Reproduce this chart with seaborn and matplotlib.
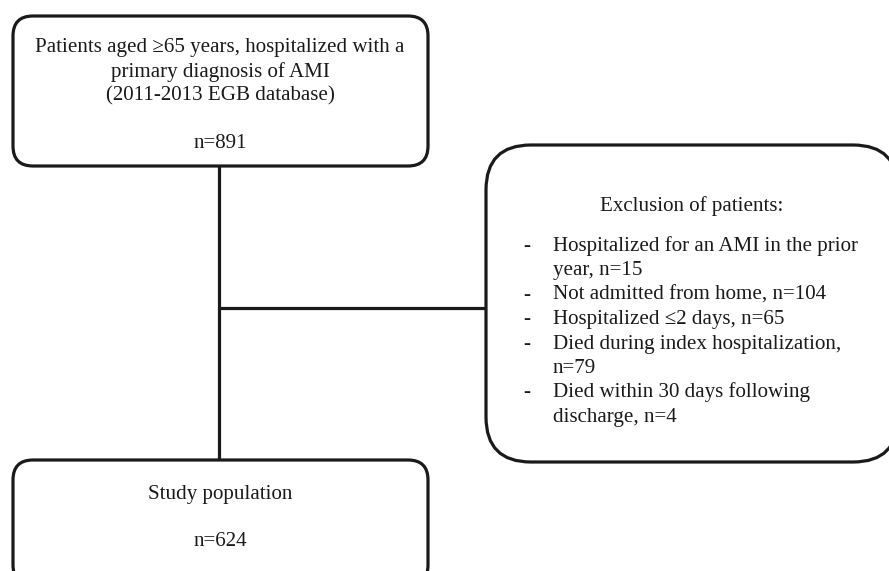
import matplotlib
matplotlib.use("Agg")
import matplotlib.pyplot as plt
from matplotlib.patches import FancyBboxPatch
import seaborn as sns
import pandas as pd

# ---- data ----
total_n = 891
final_n = 624
top_lines = ["Patients aged \u226565 years, hospitalized with a",
             "primary diagnosis of AMI",
             "(2011-2013 EGB database)"]
exclusion_title = "Exclusion of patients:"
exclusion_items = ["Hospitalized for an AMI in the prior\nyear, n=15",
                   "Not admitted from home, n=104",
                   "Hospitalized \u22642 days, n=65",
                   "Died during index hospitalization,\nn=79",
                   "Died within 30 days following\ndischarge, n=4"]
bottom_title = "Study population"

sns.set_theme(style="white")
plt.rcParams['font.family'] = ['Liberation Serif', 'DejaVu Serif']

W, H = 889, 571
fig = plt.figure(figsize=(W / 100, H / 100), dpi=100)
ax = fig.add_axes([0, 0, 1, 1])
ax.set_xlim(0, W)
ax.set_ylim(H, 0)
ax.axis("off")

LW = 2.3
FS = 15.1
col = "#1a1a1a"

def box(x0, y0, x1, y1, r):
    p = FancyBboxPatch((x0 + r, y0 + r), (x1 - x0) - 2 * r, (y1 - y0) - 2 * r,
                       boxstyle=f"round,pad={r}", fc="white", ec=col, lw=LW,
                       zorder=3, clip_on=True)
    ax.add_patch(p)

# connectors via seaborn
conn = pd.DataFrame({"x": [219, 219], "y": [166, 460]})
sns.lineplot(data=conn, x="x", y="y", ax=ax, color=col, lw=LW, sort=False,
             estimator=None, zorder=1)
conn2 = pd.DataFrame({"x": [219, 487], "y": [308, 308]})
sns.lineplot(data=conn2, x="x", y="y", ax=ax, color=col, lw=LW, sort=False,
             estimator=None, zorder=1)
ax.set_xlim(0, W)
ax.set_ylim(H, 0)
ax.set_xlabel("")
ax.set_ylabel("")

# boxes
box(13, 16, 428, 166, 20)
box(486, 145, 898, 462, 45)
box(13, 460, 428, 585, 20)

# top box text
ys = [52, 77, 100]
for y, t in zip(ys, top_lines):
    ax.text(220, y, t, ha="center", va="baseline", fontsize=FS, color=col, zorder=4)
ax.text(220, 148, f"n={total_n}", ha="center", va="baseline", fontsize=FS, color=col, zorder=4)

# exclusion box
ax.text(692, 211, exclusion_title, ha="center", va="baseline", fontsize=FS, color=col, zorder=4)
y = 251
step = 24.4
for item in exclusion_items:
    lines = item.split("\n")
    ax.text(523, y, "-", ha="left", va="baseline", fontsize=FS, color=col, zorder=4)
    for ln in lines:
        ax.text(553, y, ln, ha="left", va="baseline", fontsize=FS, color=col, zorder=4)
        y += step

# bottom box
ax.text(220, 499, bottom_title, ha="center", va="baseline", fontsize=FS, color=col, zorder=4)
ax.text(220, 546, f"n={final_n}", ha="center", va="baseline", fontsize=FS, color=col, zorder=4)

fig.savefig("out.png", dpi=100, facecolor="white")
